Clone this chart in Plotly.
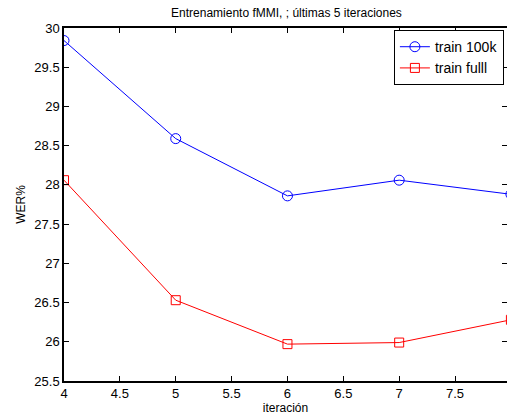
import plotly.graph_objects as go

iteraciones = [4, 5, 6, 7, 8]
wer_100k = [29.84, 28.59, 27.86, 28.06, 27.88]
wer_full = [28.06, 26.53, 25.97, 25.99, 26.28]

x_ticks = [4, 4.5, 5, 5.5, 6, 6.5, 7, 7.5]
y_ticks = [25.5, 26, 26.5, 27, 27.5, 28, 28.5, 29, 29.5, 30]

font = "Liberation Sans, Arial, Helvetica, sans-serif"

fig = go.Figure()
fig.add_trace(go.Scatter(
    x=iteraciones, y=wer_100k, mode="lines+markers", name="train 100k",
    line=dict(color="#0000ff", width=1),
    marker=dict(symbol="circle-open", size=10, color="#0000ff", line=dict(width=1)),
))
fig.add_trace(go.Scatter(
    x=iteraciones, y=wer_full, mode="lines+markers", name="train fulll",
    line=dict(color="#ff0000", width=1),
    marker=dict(symbol="square-open", size=9, color="#ff0000", line=dict(width=1)),
))
# invisible helper so the right-hand tick axis is drawn
fig.add_trace(go.Scatter(
    x=[iteraciones[0]], y=[wer_100k[0]], yaxis="y2", mode="markers",
    marker=dict(opacity=0), showlegend=False, hoverinfo="skip",
))

fig.update_layout(
    width=507, height=419,
    margin=dict(l=64, r=0, t=28, b=38),
    paper_bgcolor="white", plot_bgcolor="white",
    font=dict(family=font, size=13, color="black"),
    title=dict(text="Entrenamiento fMMI, ; últimas 5 iteraciones", x=0.565, xanchor="center",
               y=0.97, yanchor="middle", font=dict(size=12)),
    showlegend=True,
    legend=dict(x=0.993, y=0.994, xanchor="right", yanchor="top",
                bordercolor="black", borderwidth=1, bgcolor="white",
                font=dict(size=14), tracegroupgap=0),
    xaxis=dict(range=[4, 7.965], tickvals=x_ticks, ticktext=[f"{v:g}" for v in x_ticks],
               ticks="inside", ticklen=5, tickcolor="black", showline=True,
               linecolor="black", linewidth=1.5, mirror="ticks", showgrid=False,
               zeroline=False,
               title=dict(text="iteración", standoff=2, font=dict(size=12))),
    yaxis=dict(range=[25.5, 30], tickvals=y_ticks, ticktext=[f"{v:g}" for v in y_ticks],
               ticks="inside", ticklen=5, tickcolor="black", showline=True,
               linecolor="black", linewidth=1.5, mirror=False, showgrid=False,
               zeroline=False,
               title=dict(text="WER%", standoff=6, font=dict(size=12))),
    yaxis2=dict(range=[25.5, 30], tickvals=y_ticks, overlaying="y", side="right",
                ticks="inside", ticklen=5, tickcolor="black", showline=False,
                showticklabels=False, showgrid=False, zeroline=False),
)

fig.write_html("out.html")
